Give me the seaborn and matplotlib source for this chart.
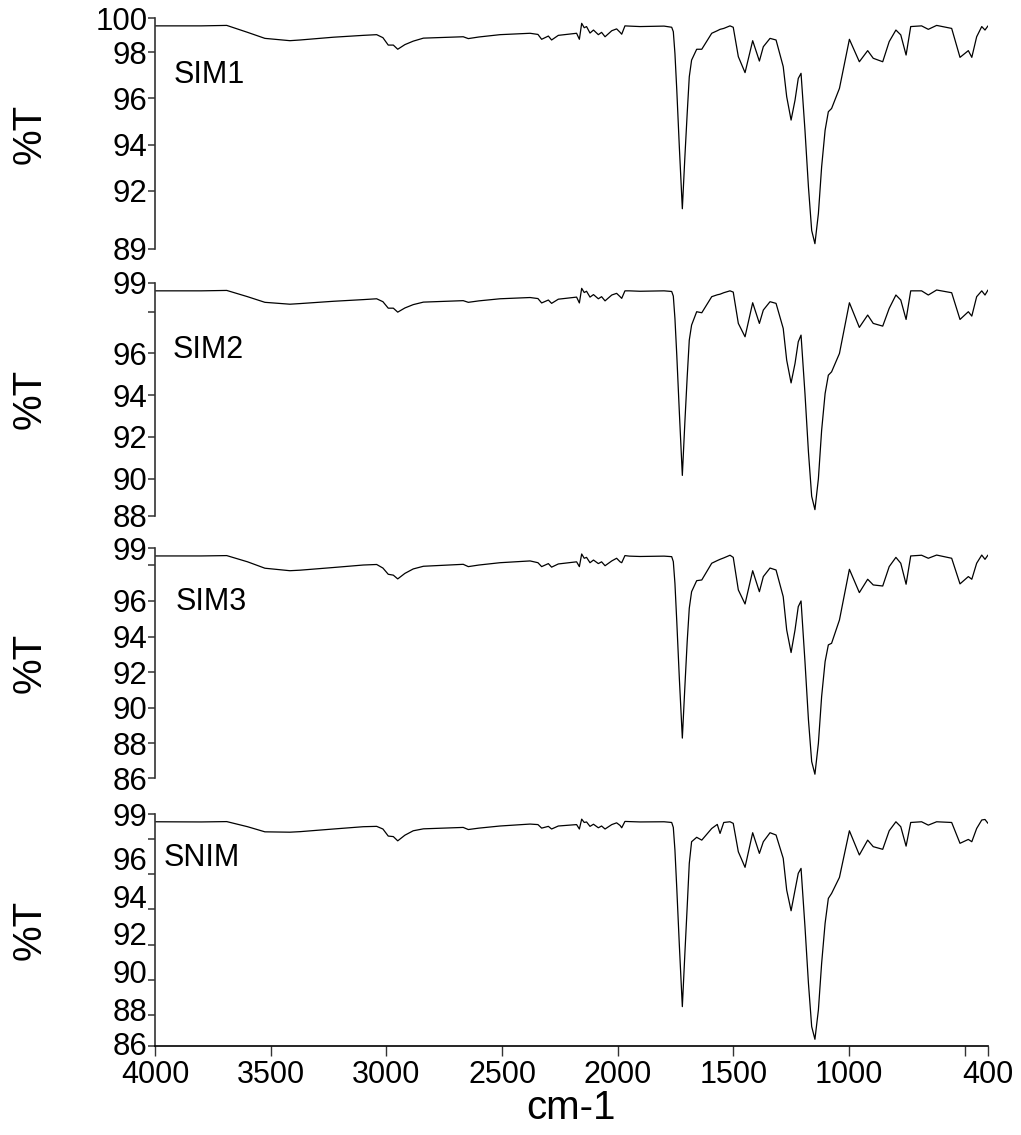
import matplotlib
matplotlib.use("Agg")
import matplotlib.pyplot as plt
import matplotlib.transforms as mtransforms
import seaborn as sns
import pandas as pd

# Wavenumber grid (cm-1), shared by all four spectra
wavenumber = [
    4000, 3800, 3690, 3600, 3525, 3417, 3373, 3229, 3100, 3042,
    3015, 2992, 2970, 2951, 2920, 2884, 2840, 2668, 2646, 2600,
    2509, 2379, 2345, 2329, 2300, 2286, 2257, 2178, 2166, 2156,
    2145, 2135, 2120, 2105, 2084, 2070, 2055, 2026, 2005, 1990,
    1983, 1969, 1950, 1904, 1800,
    1767, 1760, 1753, 1745, 1734, 1721, 1710, 1700, 1691, 1681,
    1659, 1637, 1594, 1570, 1558, 1542, 1515, 1501, 1479, 1450,
    1417, 1388, 1371, 1342, 1316, 1285, 1270, 1251, 1234, 1220,
    1208, 1191, 1176, 1162, 1148, 1133, 1119, 1104, 1090, 1076,
    1042, 999, 956, 920, 896, 855, 827, 798, 777, 754,
    734, 687, 658, 622, 557, 521, 485, 470, 449, 427,
    413, 400,
]

# Transmittance (%T) of each sample
sim1 = [
    99.13, 99.13, 99.15, 98.85, 98.59, 98.49, 98.52, 98.64, 98.72, 98.75,
    98.62, 98.30, 98.30, 98.12, 98.32, 98.47, 98.60, 98.66, 98.58, 98.65,
    98.75, 98.81, 98.76, 98.55, 98.69, 98.52, 98.72, 98.81, 98.55, 99.24,
    99.05, 99.10, 98.82, 98.95, 98.75, 98.85, 98.66, 98.92, 99.00, 98.85,
    98.77, 99.13, 99.12, 99.10, 99.12,
    99.07, 98.88, 97.94, 96.36, 93.90, 91.23, 93.47, 95.35, 96.93, 97.65,
    98.12, 98.12, 98.81, 98.92, 98.98, 99.02, 99.13, 99.07, 97.80, 97.11,
    98.49, 97.61, 98.23, 98.59, 98.52, 97.37, 96.07, 95.06, 95.92, 96.86,
    97.08, 94.62, 92.17, 90.29, 89.72, 91.02, 93.04, 94.62, 95.42, 95.56,
    96.43, 98.55, 97.58, 98.06, 97.73, 97.58, 98.45, 98.95, 98.74, 97.87,
    99.10, 99.13, 98.98, 99.15, 99.02, 97.77, 98.06, 97.77, 98.66, 99.10,
    98.95, 99.13,
]
sim2 = [
    99.00, 99.00, 99.02, 98.72, 98.45, 98.36, 98.39, 98.50, 98.58, 98.62,
    98.48, 98.17, 98.17, 97.98, 98.18, 98.34, 98.46, 98.53, 98.45, 98.52,
    98.62, 98.68, 98.63, 98.42, 98.56, 98.40, 98.60, 98.70, 98.42, 99.12,
    98.92, 98.98, 98.70, 98.82, 98.62, 98.72, 98.52, 98.80, 98.88, 98.72,
    98.64, 99.00, 99.00, 98.98, 99.00,
    98.97, 98.75, 97.68, 95.92, 93.20, 90.16, 92.72, 94.88, 96.64, 97.36,
    98.00, 97.95, 98.72, 98.81, 98.84, 98.91, 99.00, 98.94, 97.44, 96.80,
    98.43, 97.44, 98.08, 98.48, 98.40, 97.20, 95.68, 94.59, 95.52, 96.56,
    96.88, 94.08, 91.28, 89.16, 88.52, 90.00, 92.32, 94.08, 94.96, 95.12,
    96.00, 98.43, 97.25, 97.84, 97.44, 97.31, 98.16, 98.80, 98.56, 97.63,
    99.00, 99.00, 98.80, 99.04, 98.91, 97.63, 98.00, 97.79, 98.72, 99.00,
    98.80, 99.04,
]
sim3 = [
    98.53, 98.53, 98.55, 98.20, 97.84, 97.70, 97.73, 97.88, 98.02, 98.05,
    97.85, 97.50, 97.45, 97.24, 97.55, 97.80, 97.95, 98.06, 97.93, 98.02,
    98.15, 98.25, 98.15, 97.93, 98.10, 97.90, 98.08, 98.20, 97.93, 98.64,
    98.40, 98.45, 98.15, 98.30, 98.10, 98.20, 97.98, 98.25, 98.40, 98.20,
    98.15, 98.55, 98.52, 98.50, 98.52,
    98.49, 98.21, 96.99, 94.84, 91.66, 88.29, 91.19, 93.72, 95.59, 96.52,
    97.14, 97.18, 98.12, 98.27, 98.34, 98.42, 98.57, 98.45, 96.62, 95.83,
    97.70, 96.52, 97.37, 97.85, 97.74, 96.24, 94.37, 93.10, 94.37, 95.68,
    96.00, 92.59, 89.32, 86.97, 86.26, 88.00, 90.63, 92.59, 93.53, 93.62,
    94.93, 97.78, 96.47, 97.22, 96.90, 96.84, 97.93, 98.45, 98.12, 96.94,
    98.53, 98.57, 98.40, 98.58, 98.40, 96.96, 97.37, 97.22, 98.12, 98.58,
    98.34, 98.58,
]
snim = [
    98.96, 98.95, 98.97, 98.68, 98.39, 98.37, 98.40, 98.55, 98.68, 98.70,
    98.55, 98.15, 98.12, 97.88, 98.20, 98.45, 98.56, 98.64, 98.52, 98.60,
    98.72, 98.83, 98.80, 98.60, 98.70, 98.55, 98.72, 98.80, 98.55, 99.11,
    98.92, 98.95, 98.70, 98.82, 98.62, 98.72, 98.55, 98.80, 98.90, 98.75,
    98.62, 98.98, 98.97, 98.95, 98.96,
    98.92, 98.64, 97.36, 95.19, 91.98, 88.49, 91.51, 94.15, 96.60, 97.83,
    98.08, 97.92, 98.58, 98.81, 98.30, 98.92, 98.96, 98.87, 97.26, 96.38,
    98.34, 97.17, 97.83, 98.34, 98.21, 96.89, 95.09, 93.92, 95.09, 96.04,
    96.32, 93.02, 89.81, 87.36, 86.64, 88.30, 90.94, 93.21, 94.62, 94.90,
    95.81, 98.45, 97.08, 97.92, 97.55, 97.40, 98.45, 98.96, 98.68, 97.58,
    98.92, 98.96, 98.77, 98.96, 98.92, 97.74, 97.96, 97.83, 98.58, 99.06,
    99.09, 98.87,
]

sample_names = ["SIM1", "SIM2", "SIM3", "SNIM"]
spectra = [sim1, sim2, sim3, snim]

# Axis extents and tick labels of each panel
y_limits = [(89.49, 99.47), (88.23, 99.39), (86.03, 98.96), (86.26, 99.40)]
y_ticks = [
    [89.49, 92, 94, 96, 98, 99.47],
    [88.23, 90, 92, 94, 96, 98, 99.39],
    [86.03, 88, 90, 92, 94, 96, 98, 98.96],
    [86.26, 88, 90, 92, 94, 96, 98, 99.40],
]
y_ticklabels = [
    ["89", "92", "94", "96", "98", "100"],
    ["88", "90", "92", "94", "96", "", "99"],
    ["86", "88", "90", "92", "94", "96", "", "99"],
    ["86", "88", "90", "92", "94", "96", "", "99"],
]
x_ticks = [4000, 3500, 3000, 2500, 2000, 1500, 1000, 500, 400]
x_ticklabels = ["4000", "3500", "3000", "2500", "2000", "1500", "1000", "", "400"]

sns.set_style("white")
plt.rcParams["font.family"] = ["Liberation Sans", "DejaVu Sans"]
plt.rcParams["text.color"] = "black"
plt.rcParams["xtick.labelcolor"] = "black"
plt.rcParams["ytick.labelcolor"] = "black"

W, H = 1021, 1135
fig = plt.figure(figsize=(W / 100, H / 100), dpi=100)

left_px, right_px = 155, 988
panel_px = [(18, 249), (282.7, 515.7), (548.3, 778.3), (814, 1046)]
label_pos = [(0.022, 0.753), (0.021, 0.711), (0.025, 0.768), (0.010, 0.810)]
# vertical nudges (points) of the bottom panel's tick labels, lowest first
bottom_label_shift = [2, 4, 6, 8, 9, 11, 0, 0]
spine_color = "#333333"

for i, (name, vals) in enumerate(zip(sample_names, spectra)):
    top, bottom = panel_px[i]
    ax = fig.add_axes([left_px / W, 1 - bottom / H,
                       (right_px - left_px) / W, (bottom - top) / H])
    df = pd.DataFrame({"wavenumber": wavenumber, "T": vals})
    sns.lineplot(data=df, x="wavenumber", y="T", ax=ax, color="black",
                 linewidth=0.9, sort=False)
    ax.set_xlim(4000, 400)
    ax.set_ylim(*y_limits[i])
    ax.set_yticks(y_ticks[i])
    ax.set_yticklabels(y_ticklabels[i])
    ax.set_xlabel("")
    ax.set_ylabel("")
    ax.tick_params(axis="y", direction="out", length=5, width=1.1,
                   color=spine_color, labelcolor="black", labelsize=22.5,
                   pad=0.5, left=True)
    for s in ("top", "right"):
        ax.spines[s].set_visible(False)
    ax.spines["left"].set_color(spine_color)
    ax.spines["left"].set_linewidth(1.2)
    if i < 3:
        ax.spines["bottom"].set_visible(False)
        ax.set_xticks([])
    else:
        ax.spines["bottom"].set_color("black")
        ax.spines["bottom"].set_linewidth(1.2)
        ax.set_xticks(x_ticks)
        ax.set_xticklabels(x_ticklabels)
        ax.tick_params(axis="x", direction="out", length=7, width=1.0,
                       color=spine_color, labelcolor="black", labelsize=22,
                       pad=3, bottom=True)
        for lab, dy in zip(ax.get_yticklabels(), bottom_label_shift):
            lab.set_transform(lab.get_transform() + mtransforms.ScaledTranslation(
                0, dy / 72, fig.dpi_scale_trans))
    ax.text(label_pos[i][0], label_pos[i][1], name, transform=ax.transAxes,
            fontsize=22, ha="left", va="center", color="black")
    fig.text(30 / W, 1 - (top + bottom) / 2 / H, "%T", rotation=90,
             fontsize=29, ha="center", va="center", color="black")

fig.text((left_px + right_px) / 2 / W, 1 - 1108 / H, "cm-1",
         fontsize=29, ha="center", va="center", color="black")

fig.savefig("out.png", dpi=100)
